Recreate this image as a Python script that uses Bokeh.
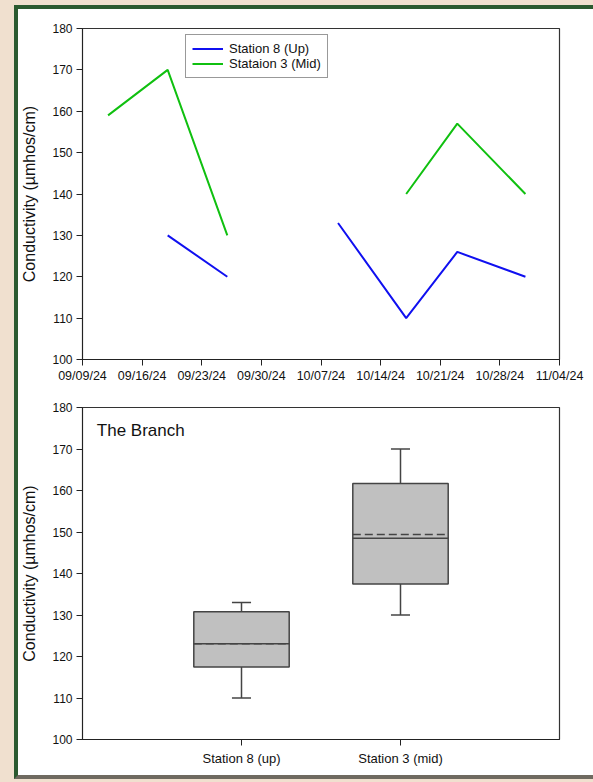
import math
import pandas as pd
from bokeh.plotting import figure
from bokeh.layouts import column
from bokeh.models import (FixedTicker, DatetimeTickFormatter, Range1d, Legend, LegendItem,
                          Label, ColumnDataSource)
from bokeh.embed import file_html
from bokeh.resources import INLINE

NaN = float("nan")

# ---- Data: time series ----
dates = ["2024-09-12", "2024-09-19", "2024-09-26", "2024-10-03",
         "2024-10-09", "2024-10-17", "2024-10-23", "2024-10-31"]
station8 = [NaN, 130, 120, NaN, 133, 110, 126, 120]
station3 = [159, 170, 130, NaN, NaN, 140, 157, 140]
x_tick_labels = ["09/09/24", "09/16/24", "09/23/24", "09/30/24", "10/07/24",
                 "10/14/24", "10/21/24", "10/28/24", "11/04/24"]
y_ticks = [100, 110, 120, 130, 140, 150, 160, 170, 180]

# ---- Data: box plot statistics ----
box_categories = ["Station 8 (up)", "Station 3 (mid)"]
whisker_low = [110, 130]
q1 = [117.5, 137.5]
median = [123.1, 148.5]
mean = [123.1, 149.4]
q3 = [130.8, 161.7]
whisker_high = [133, 170]

FONT = "Liberation Sans"
AXIS_COLOR = "#222222"

def style(p):
    p.outline_line_color = "#333333"
    p.outline_line_width = 1.2
    p.grid.visible = False
    p.background_fill_color = "white"
    p.border_fill_color = "white"
    for ax in (p.xaxis[0], p.yaxis[0]):
        ax.axis_line_color = AXIS_COLOR
        ax.major_tick_line_color = AXIS_COLOR
        ax.major_tick_out = 6
        ax.major_tick_in = 0
        ax.minor_tick_line_color = None
        ax.major_label_text_font = FONT
        ax.major_label_text_font_size = "12px"
        ax.major_label_text_color = "#111111"
        ax.axis_label_text_font = FONT
        ax.axis_label_text_font_size = "16px"
        ax.axis_label_text_font_style = "normal"
        ax.axis_label_text_color = "#111111"
    p.yaxis[0].ticker = FixedTicker(ticks=y_ticks)
    p.yaxis[0].major_label_standoff = 4
    p.yaxis[0].axis_label = "Conductivity (µmhos/cm)"
    p.yaxis[0].axis_label_standoff = 11

# ---- Top: time series ----
dt = pd.to_datetime(dates)
tick_ms = [pd.Timestamp(pd.to_datetime(t, format="%m/%d/%y")).value / 1e6 for t in x_tick_labels]

p1 = figure(width=575, height=382, output_backend="svg", toolbar_location=None,
            x_axis_type="datetime",
            x_range=Range1d(tick_ms[0], tick_ms[-1]), y_range=Range1d(100, 180),
            min_border_left=64, min_border_right=34, min_border_top=19, min_border_bottom=32)
style(p1)
p1.xaxis[0].ticker = FixedTicker(ticks=tick_ms)
p1.xaxis[0].formatter = DatetimeTickFormatter(days="%m/%d/%y", months="%m/%d/%y")
p1.xaxis[0].major_label_standoff = 3
p1.xaxis[0].major_label_text_font_size = "12.5px"

r8 = p1.line(dt, station8, line_color="#1010f0", line_width=2)
r3 = p1.line(dt, station3, line_color="#10c010", line_width=2)

legend = Legend(items=[LegendItem(label="Station 8 (Up)", renderers=[r8]),
                       LegendItem(label="Stataion 3 (Mid)", renderers=[r3])],
                location=(103, 281))
legend.border_line_color = "#333333"
legend.border_line_width = 1
legend.label_text_font = FONT
legend.label_text_font_size = "13px"
legend.label_text_color = "#111111"
legend.glyph_width = 31
legend.glyph_height = 13
legend.label_height = 13
legend.label_standoff = 6
legend.spacing = 0
legend.padding = 6
legend.margin = 0
legend.background_fill_alpha = 1
p1.add_layout(legend, "center")

# ---- Bottom: box plot ----
pos = [i + 1 for i in range(len(box_categories))]
src = ColumnDataSource(dict(x=pos, lo=whisker_low, q1=q1, med=median, mean=mean,
                            q3=q3, hi=whisker_high))

p2 = figure(width=575, height=384, output_backend="svg", toolbar_location=None,
            x_range=Range1d(0, 3), y_range=Range1d(100, 180),
            min_border_left=64, min_border_right=34, min_border_top=16, min_border_bottom=36)
style(p2)
p2.xaxis[0].ticker = FixedTicker(ticks=pos)
p2.xaxis[0].major_label_overrides = {p: c for p, c in zip(pos, box_categories)}
p2.xaxis[0].major_label_standoff = 5
p2.xaxis[0].major_label_text_font_size = "13px"

BOX_W = 0.6
CAP_W = 0.12
EDGE = "#444444"
p2.segment(x0="x", y0="q3", x1="x", y1="hi", source=src, line_color=EDGE, line_width=1.5)
p2.segment(x0="x", y0="lo", x1="x", y1="q1", source=src, line_color=EDGE, line_width=1.5)
p2.vbar(x="x", width=BOX_W, bottom="q1", top="q3", source=src,
        fill_color="#c0c0c0", line_color=EDGE, line_width=1.5)
caps_x0 = [x - CAP_W / 2 for x in pos]
caps_x1 = [x + CAP_W / 2 for x in pos]
p2.segment(x0=caps_x0, y0=whisker_high, x1=caps_x1, y1=whisker_high, line_color=EDGE, line_width=1.5)
p2.segment(x0=caps_x0, y0=whisker_low, x1=caps_x1, y1=whisker_low, line_color=EDGE, line_width=1.5)
bx0 = [x - BOX_W / 2 for x in pos]
bx1 = [x + BOX_W / 2 for x in pos]
p2.segment(x0=bx0, y0=mean, x1=bx1, y1=mean, line_color=EDGE, line_width=1.5, line_dash="8 4")
p2.segment(x0=bx0, y0=median, x1=bx1, y1=median, line_color=EDGE, line_width=1.5)

p2.add_layout(Label(x=0.09, y=174.5, text="The Branch", text_font=FONT, text_font_size="17px",
                    text_color="#111111", text_baseline="middle"))

inner = column(p1, p2, spacing=0,
               styles={"border-left": "4px solid #2b5a30", "border-top": "4px solid #2b5a30",
                       "border-bottom": "4px solid #6f6a60", "background-color": "white"})
outer = column(inner, width=593, height=782,
               styles={"background-color": "#f0e0cf", "padding-left": "14px", "padding-top": "5px"})

open("out.html", "w").write(file_html(outer, INLINE))
